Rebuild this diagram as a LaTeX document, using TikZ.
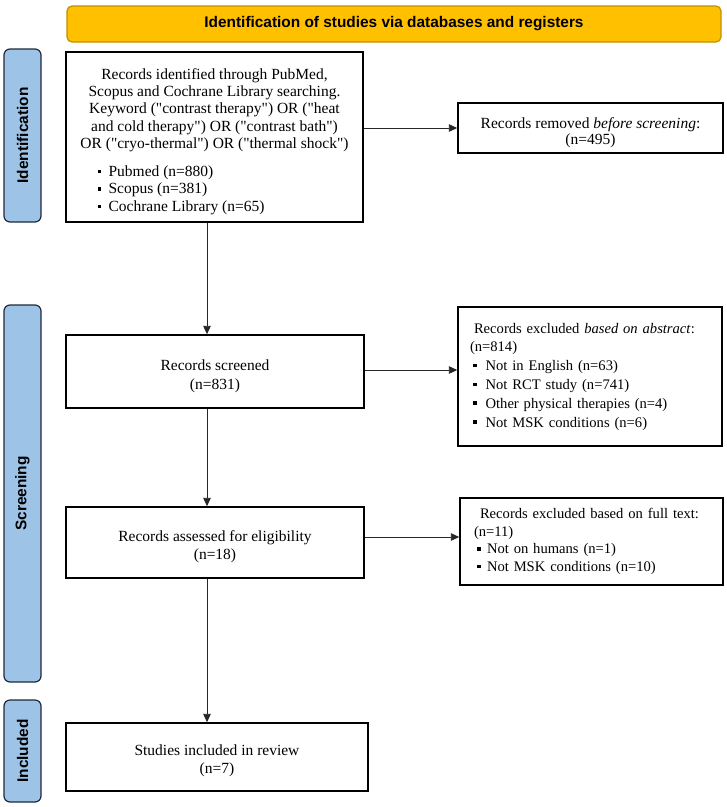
\documentclass[tikz,border=0pt]{standalone}
\usepackage{fontspec}
\setmainfont{Liberation Serif}[Ligatures=TeXOff]
\setsansfont{Liberation Sans}
\usetikzlibrary{arrows.meta,calc}
\definecolor{bannerfill}{HTML}{FFC000}
\definecolor{bannerline}{HTML}{BF9000}
\definecolor{sidefill}{HTML}{9DC3E6}
\definecolor{sideline}{HTML}{1F2A3A}
\newcommand{\sqbul}[1][8pt]{\rule[3.2pt]{3.6pt}{3.6pt}\hspace{#1}}
\newcommand{\dtext}[2][8pt]{\parbox{245pt}{\vspace*{#1}\centering #2}}
\begin{document}
\begin{tikzpicture}[x=1pt,y=-1pt,
  box/.style={draw=black, line width=1.4pt, fill=white, inner sep=0pt,
    font=\fontsize{15.5}{18.5}\selectfont},
  sidebar/.style={draw=sideline, fill=sidefill, rounded corners=6pt, line width=1.2pt,
    minimum height=37pt, inner sep=0pt, rotate=90,
    font=\sffamily\bfseries\fontsize{15.4}{18}\selectfont},
  banner/.style={draw=bannerline, fill=bannerfill, rounded corners=5pt, line width=1.2pt,
    inner sep=0pt, font=\sffamily\bfseries\fontsize{15.4}{18}\selectfont},
  arr/.style={-{Triangle[length=8.5pt,width=7.5pt]}, line width=0.9pt, draw=black!85}]
\useasboundingbox (0,0) rectangle (727,807);

% banner
\node[banner, minimum width=654pt, minimum height=36pt] (ban) at (394,24)
  {Identification of studies via databases and registers};

% side bars
\node[sidebar, minimum width=173pt] (sideid) at (22.5,135.5) {Identification};
\node[sidebar, minimum width=377pt] (sidescr) at (22.5,493.5) {Screening};
\node[sidebar, minimum width=102pt] (sideinc) at (22.5,751) {Included};

% left column
\node[box, minimum width=297pt, minimum height=170pt] (id) at (214.5,137)
  {\parbox{290pt}{\vspace*{9pt}\fontsize{15.5}{17.3}\selectfont\centering
   Records identified through PubMed,\\
   Scopus and Cochrane Library searching.\\
   Keyword ("contrast therapy") OR ("heat\\
   and cold therapy") OR ("contrast bath")\\
   OR ("cryo-thermal") OR ("thermal shock")\par
   \vspace{10.5pt}\fontsize{15.5}{17.5}\selectfont\raggedright
   \hspace*{28pt}\sqbul[7.5pt]Pubmed (n=880)\\
   \hspace*{28pt}\sqbul[7.5pt]Scopus (n=381)\\
   \hspace*{28pt}\sqbul[7.5pt]Cochrane Library (n=65)\par}};

\node[box, minimum width=298pt, minimum height=73pt] (scr) at (215,371.5)
  {\dtext[10pt]{Records screened\\(n=831)}};
\node[box, minimum width=298pt, minimum height=71pt] (elig) at (215,542.5)
  {\dtext[8pt]{Records assessed for eligibility\\(n=18)}};
\node[box, minimum width=302pt, minimum height=68pt] (inc) at (217,757)
  {\dtext[8pt]{Studies included in review\\(n=7)}};

% right column
\node[box, minimum width=265pt, minimum height=50pt,
  font=\fontsize{15.5}{15.5}\selectfont] (rem) at (590.5,128)
  {\dtext[9pt]{Records removed \textit{before screening}:\\(n=495)}};

\node[box, minimum width=264pt, minimum height=139pt, text width=240pt, align=left,
  font=\fontsize{14.6}{18.8}\selectfont] (abs) at (590,376.5)
  {\mbox{\hspace*{4pt}Records excluded \textit{based on abstract}:}\\
   (n=814)\\
   \hspace*{3pt}\sqbul[9pt]Not in English (n=63)\\
   \hspace*{3pt}\sqbul[9pt]Not RCT study (n=741)\\
   \hspace*{3pt}\sqbul[9pt]Other physical therapies (n=4)\\
   \hspace*{3pt}\sqbul[9pt]Not MSK conditions (n=6)};

\node[box, minimum width=263pt, minimum height=87pt, text width=235pt, align=left,
  font=\fontsize{14.6}{17.7}\selectfont] (full) at (591.5,541.5)
  {\mbox{\hspace*{6pt}Records excluded based on full text:}\\
   (n=11)\\
   \hspace*{3pt}\sqbul[6.4pt]Not on humans (n=1)\\
   \hspace*{3pt}\sqbul[6.4pt]Not MSK conditions (n=10)};

% connectors
\coordinate (dx) at (207,0);
\draw[arr] (id.south -| dx) -- (scr.north -| dx);
\draw[arr] (scr.south -| dx) -- (elig.north -| dx);
\draw[arr] (elig.south -| dx) -- (inc.north -| dx);
\draw[arr] (id.east |- rem.west) -- (rem.west);
\draw[arr] ([yshift=1.5pt]scr.east) -- ([yshift=1.5pt]scr.east -| abs.west);
\draw[arr] ([yshift=5.5pt]elig.east) -- ([yshift=5.5pt]elig.east -| full.west);
\end{tikzpicture}
\end{document}
